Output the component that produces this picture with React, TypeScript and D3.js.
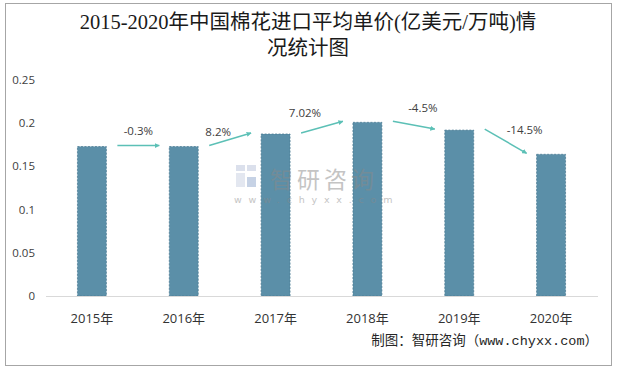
import React from "react";
import * as d3 from "d3";

const categories = ["2015年", "2016年", "2017年", "2018年", "2019年", "2020年"];
const prices = [0.173, 0.173, 0.1875, 0.201, 0.192, 0.164];
const growthLabels = ["-0.3%", "8.2%", "7.02%", "-4.5%", "-14.5%"];
const yTicks = [0, 0.05, 0.1, 0.15, 0.2, 0.25];
const yTickLabels = ["0", "0.05", "0.1", "0.15", "0.2", "0.25"];

const W = 617;
const H = 369;
const plot = { left: 46, right: 597, top: 80, bottom: 296 };

export default function App() {
  const x = d3.scaleBand<string>().domain(categories).range([plot.left, plot.right]).paddingInner(0.685).paddingOuter(0.3425);
  const y = d3.scaleLinear().domain([0, 0.25]).range([plot.bottom, plot.top]);
  const cx = (i: number) => (x(categories[i]) as number) + x.bandwidth() / 2;
  const bw = x.bandwidth();
  const teal = "#5CC0B6";

  const arrows = growthLabels.map((lab, i) => {
    const x1 = cx(i) + bw / 2 + 11;
    const x2 = cx(i + 1) - bw / 2 - 10;
    const y1 = y(prices[i]) - 1;
    const y2 = y(prices[i + 1]) - 1;
    return { lab, x1, x2, y1, y2 };
  });
  const labelPos = [
    { dx: 0, y: 135 },
    { dx: -12, y: 136 },
    { dx: -17, y: 117 },
    { dx: 9, y: 112 },
    { dx: 19, y: 134 },
  ];

  return (
    <div style={{ position: "fixed", left: 0, top: 0 }}>
      <svg width={W} height={H} viewBox={`0 0 ${W} ${H}`} style={{ display: "block", background: "#fff" }}>
        <defs>
          <marker id="ah" viewBox="0 0 10 10" refX="9" refY="5" markerWidth="5" markerHeight="5" orient="auto" markerUnits="userSpaceOnUse">
            <path d="M0,0 L10,5 L0,10 z" fill={teal} />
          </marker>
        </defs>
        <rect x={5.5} y={3.5} width={606} height={362} fill="#fff" stroke="#a6a6a6" strokeWidth={1} />
        <text x={308} y={29} textAnchor="middle" fontSize={20.5} fontFamily="'Liberation Serif', 'Noto Sans CJK SC', serif" fill="#1a1a1a">
          2015-2020年中国棉花进口平均单价(亿美元/万吨)情
        </text>
        <text x={308} y={55} textAnchor="middle" fontSize={20.5} fontFamily="'Liberation Serif', 'Noto Sans CJK SC', serif" fill="#1a1a1a">
          况统计图
        </text>

        {/* y axis labels */}
        {yTicks.map((t, i) => (
          <text key={t} x={35} y={y(t) + 4} textAnchor="end" fontSize={11.5} fontFamily="'Open Sans', 'DejaVu Sans', sans-serif" fill="#404040">
            {yTickLabels[i]}
          </text>
        ))}

        {/* bars */}
        {categories.map((c, i) => (
          <rect
            key={c}
            x={x(c) as number}
            y={y(prices[i])}
            width={bw}
            height={plot.bottom - y(prices[i])}
            fill="#5B8FA8"
            stroke="#4a7a92"
            strokeWidth={0.75}
            strokeDasharray="2,1.5"
          />
        ))}

        <line x1={plot.left} x2={plot.right + 1} y1={plot.bottom + 0.5} y2={plot.bottom + 0.5} stroke="#d9d9d9" strokeWidth={1} />

        {/* watermark */}
        <g opacity={0.5}>
          <g transform="translate(236,165)">
            <rect x={0} y={0} width={9} height={6} fill="#b8c3da" />
            <rect x={11} y={0} width={9} height={6} fill="#b8c3da" />
            <rect x={0} y={8} width={9} height={14} fill="#c8d0e2" />
            <rect x={11} y={12} width={9} height={10} fill="#8fa6cc" />
          </g>
          <text x={270} y={188} textAnchor="start" fontSize={23} fontFamily="'Noto Sans CJK SC', sans-serif" fill="#8a8a8a" letterSpacing={4}>
            智研咨询
          </text>
          <text x={234} y={203} textAnchor="start" fontSize={9.5} fontFamily="'DejaVu Sans', sans-serif" fill="#8a8a8a" letterSpacing={6.8}>
            www.chyxx.com
          </text>
        </g>

        {/* x labels */}
        {categories.map((c, i) => (
          <text key={c} x={cx(i)} y={323} textAnchor="middle" fontSize={13} fontFamily="'Open Sans', 'Noto Sans CJK SC', sans-serif" fill="#333">
            {c}
          </text>
        ))}

        {/* arrows */}
        {arrows.map((a, i) => (
          <g key={a.lab}>
            <line x1={a.x1} y1={a.y1} x2={a.x2} y2={a.y2} stroke={teal} strokeWidth={1.5} markerEnd="url(#ah)" />
            <text x={(a.x1 + a.x2) / 2 + labelPos[i].dx} y={labelPos[i].y} textAnchor="middle" fontSize={11.5} fontFamily="'Open Sans', 'DejaVu Sans', sans-serif" fill="#404040">
              {a.lab}
            </text>
          </g>
        ))}

        <text x={598} y={345} textAnchor="end" fontSize={13.5} fontFamily="'Liberation Mono', 'Noto Sans CJK SC', monospace" fill="#262626">
          制图：智研咨询（www.chyxx.com）
        </text>
      </svg>
    </div>
  );
}
